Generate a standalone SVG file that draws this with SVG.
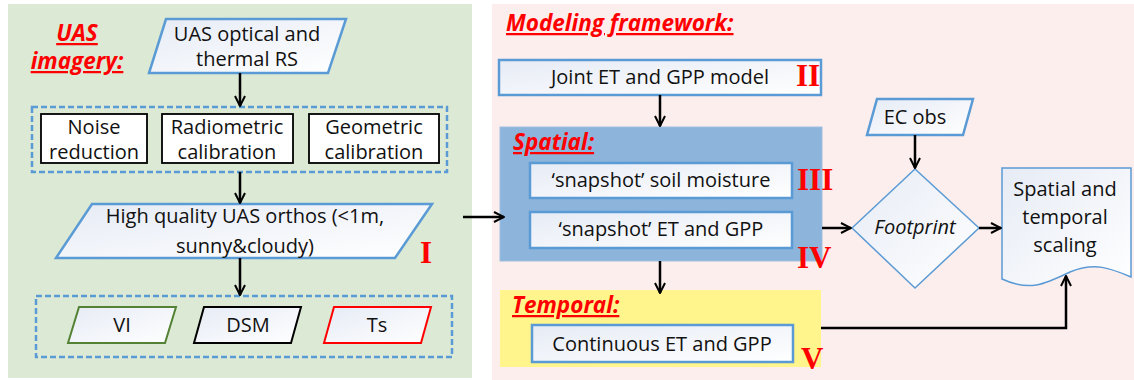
<svg xmlns="http://www.w3.org/2000/svg" width="1134" height="380" viewBox="0 0 1134 380">
<defs>
<linearGradient id="gf" x1="0" y1="0" x2="1" y2="1">
<stop offset="0" stop-color="#e6ebf5"/>
<stop offset="1" stop-color="#ffffff"/>
</linearGradient>
<marker id="ah" viewBox="0 0 12 12" refX="11" refY="6" markerWidth="12" markerHeight="12" markerUnits="userSpaceOnUse" orient="auto">
<path d="M1,1 L11,6 L1,11" fill="none" stroke="#000" stroke-width="2"/>
</marker>
<style>
text{font-family:"Open Sans","Noto Sans","Liberation Sans",sans-serif;fill:#111;}
.t{font-size:20px;text-anchor:middle;}
.h{font-size:22.5px;font-weight:bold;font-style:italic;fill:#ff0000;text-decoration:underline;}
.r{font-family:"Liberation Serif","DejaVu Serif",serif;font-weight:bold;fill:#ff0000;font-size:31px;}
.bl{fill:url(#gf);stroke:#5b9bd5;stroke-width:2.5;}
.bk{fill:#fff;stroke:#000;stroke-width:1.8;}
.dash{fill:none;stroke:#5b9bd5;stroke-width:2.5;stroke-dasharray:6,3;}
.ca{fill:none;stroke:#000;stroke-width:2.5;marker-end:url(#ah);}
</style>
</defs>
<rect x="8" y="4" width="464" height="374" fill="#dce9d4"/>
<rect x="492" y="4" width="642" height="376" fill="#fdeeee"/>

<g id="label-uas">
<text class="h" x="77" y="41" text-anchor="middle">UAS</text>
<text class="h" x="77" y="69" text-anchor="middle">imagery:</text>
</g>
<g id="uas-rs">
<polygon class="bl" points="166,19 346,19 328,73 149,73"/>
<text class="t" x="247" y="41">UAS optical and</text>
<text class="t" x="247" y="66">thermal RS</text>
</g>
<g id="preprocess">
<rect class="dash" x="32" y="107" width="415" height="65"/>
</g>
<g id="noise">
<rect class="bk" x="41" y="114" width="106" height="49"/>
<text class="t" x="94" y="134">Noise</text>
<text class="t" x="94" y="159">reduction</text>
</g>
<g id="radiometric">
<rect class="bk" x="162" y="114" width="131" height="49"/>
<text class="t" x="227" y="134">Radiometric</text>
<text class="t" x="227" y="159">calibration</text>
</g>
<g id="geometric">
<rect class="bk" x="309" y="114" width="130" height="49"/>
<text class="t" x="374" y="134">Geometric</text>
<text class="t" x="374" y="159">calibration</text>
</g>
<g id="orthos">
<polygon class="bl" points="92,204 432,204 395,258 56,258"/>
<text class="t" x="245" y="223">High quality UAS orthos (&lt;1m,</text>
<text class="t" x="245" y="253">sunny&amp;cloudy)</text>
<text class="r" x="420" y="263">I</text>
</g>
<g id="products">
<rect class="dash" x="36" y="296" width="416" height="61"/>
</g>
<g id="vi">
<polygon fill="url(#gf)" stroke="#548235" stroke-width="2" points="79,307 176,307 165,343 68,343"/>
<text class="t" x="122" y="332">VI</text>
</g>
<g id="dsm">
<polygon fill="url(#gf)" stroke="#000" stroke-width="2" points="204,307 301,307 291,343 194,343"/>
<text class="t" x="248" y="332">DSM</text>
</g>
<g id="ts">
<polygon fill="url(#gf)" stroke="#ff0000" stroke-width="2" points="334,307 431,307 421,343 324,343"/>
<text class="t" x="377" y="332">Ts</text>
</g>

<g id="label-modeling">
<text class="h" x="506" y="31">Modeling framework:</text>
</g>
<g id="joint">
<rect class="bl" x="499" y="60" width="322" height="35"/>
<text class="t" x="660" y="84">Joint ET and GPP model</text>
<text class="r" x="796" y="86">II</text>
</g>
<g id="spatial">
<rect x="500" y="127" width="322" height="134" fill="#8db4da" stroke="#9dbfe0" stroke-width="1"/>
<text class="h" x="513" y="150">Spatial:</text>
</g>
<g id="soil">
<rect class="bl" x="530" y="163" width="262" height="35"/>
<text class="t" x="661" y="187">‘snapshot’ soil moisture</text>
<text class="r" x="797" y="190">III</text>
</g>
<g id="snap-et">
<rect class="bl" x="530" y="212" width="262" height="36"/>
<text class="t" x="661" y="236">‘snapshot’ ET and GPP</text>
<text class="r" x="797" y="268">IV</text>
</g>
<g id="temporal">
<rect x="500" y="290" width="321" height="77" fill="#fff58c"/>
<text class="h" x="512" y="313">Temporal:</text>
</g>
<g id="continuous">
<rect class="bl" x="532" y="325" width="261" height="37"/>
<text class="t" x="662" y="351">Continuous ET and GPP</text>
<text class="r" x="801" y="369">V</text>
</g>
<g id="ec-obs">
<polygon class="bl" points="877,99 973,99 963,135 867,135" stroke-width="1.5"/>
<text class="t" x="915" y="124">EC obs</text>
</g>
<g id="footprint">
<polygon points="852,228 915,169 979,228 915,288" fill="url(#gf)" stroke="#5b9bd5" stroke-width="1.5"/>
<text class="t" x="915" y="234" font-style="italic">Footprint</text>
</g>
<g id="scaling">
<path d="M1002,168 H1131 V277 C1110,268 1095,262 1070,272 C1045,284 1030,292 1002,279 Z" fill="url(#gf)" stroke="#5b9bd5" stroke-width="1.5"/>
<text class="t" x="1065" y="196">Spatial and</text>
<text class="t" x="1065" y="224">temporal</text>
<text class="t" x="1065" y="252">scaling</text>
</g>

<g id="connectors">
<line class="ca" x1="240" y1="73" x2="240" y2="106"/>
<line class="ca" x1="240" y1="172" x2="240" y2="203"/>
<line class="ca" x1="240" y1="258" x2="240" y2="295"/>
<line class="ca" x1="463" y1="217" x2="504" y2="217"/>
<line class="ca" x1="660" y1="95" x2="660" y2="126"/>
<line class="ca" x1="660" y1="261" x2="660" y2="293"/>
<line class="ca" x1="822" y1="228" x2="851" y2="228"/>
<line class="ca" x1="915" y1="135" x2="915" y2="168"/>
<line class="ca" x1="979" y1="228" x2="1001" y2="228"/>
<polyline class="ca" points="821,328 1066,328 1066,276"/>
</g>
</svg>
